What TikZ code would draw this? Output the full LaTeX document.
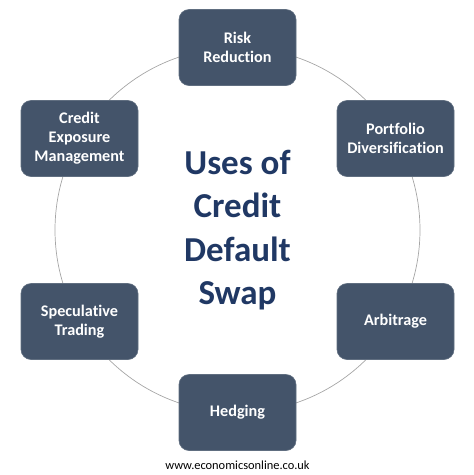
\documentclass[tikz,border=0pt]{standalone}
\usepackage{fontspec}
\setmainfont{Carlito}[RawFeature=-liga]
\definecolor{boxfill}{HTML}{44546A}
\definecolor{titleblue}{HTML}{203864}
\definecolor{ringgray}{HTML}{A6A6A6}
\begin{document}
\begin{tikzpicture}[x=1pt,y=-1pt,
  usebox/.style={draw=boxfill!85!white, line width=0.6pt, fill=boxfill, rounded corners=10pt,
    minimum width=117pt, minimum height=76pt, align=center, text=white,
    font=\fontsize{16.2}{19}\selectfont\bfseries, inner sep=2pt},
  ring/.style={draw=ringgray, line width=0.7pt}]
\useasboundingbox (0,0) rectangle (474,475);
\coordinate (c) at (237.5,230);
\draw[ring] (c) circle[radius=182.5];
\node[usebox] (risk) at (237.5,47.5) {Risk\\Reduction};
\node[usebox] (port) at (395.5,138.5) {Portfolio\\Diversification};
\node[usebox] (arb) at (395.5,321.5) {Arbitrage};
\node[usebox] (hedge) at (237.5,412.5) {Hedging};
\node[usebox] (spec) at (79.5,321.5) {Speculative\\Trading};
\node[usebox] (cem) at (79.5,138.5) {Credit\\Exposure\\Management};
\node[align=center, text=titleblue, font=\fontsize{35}{43.5}\selectfont\bfseries] (title) at (c) {Uses of\\Credit\\Default\\Swap};
\node[font=\fontsize{12.4}{14}\selectfont] (url) at (237.5,465) {www.economicsonline.co.uk};
\end{tikzpicture}
\end{document}
